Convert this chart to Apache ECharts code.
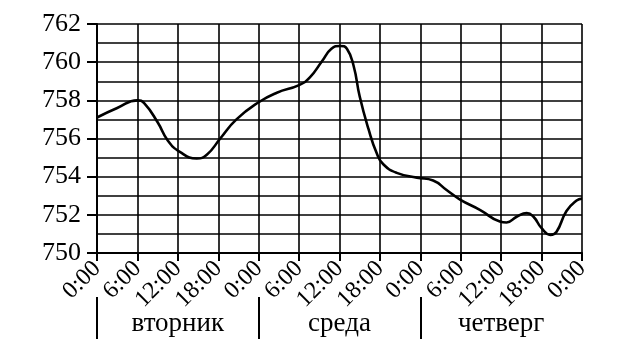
<!DOCTYPE html>
<html><head><meta charset="utf-8">
<script src="https://cdn.jsdelivr.net/npm/echarts@6/dist/echarts.min.js"></script>
<style>html,body{margin:0;padding:0;background:#fff}#c{width:641px;height:356px}</style>
</head><body><div id="c"></div>
<script>
// hours from Tuesday 0:00
const hours = [0,3,6,7,9,10.5,12.3,14.8,16.3,18.3,20.7,24,26.7,30,31.6,33.4,34.8,36.1,37.1,38.1,39,40.3,41.5,42.5,44.5,47.5,49.9,51.9,53.9,56.9,59.8,60.8,62.3,63.8,64.8,66,67.3,68.2,69.7,71.2,72];
const pressure = [757.1,757.6,758.0,757.85,756.85,755.9,755.3,754.95,755.15,756.0,757.0,757.9,758.4,758.8,759.2,760.05,760.7,760.85,760.7,759.8,758.2,756.5,755.25,754.65,754.2,753.95,753.8,753.3,752.8,752.25,751.65,751.6,751.9,752.1,751.9,751.3,750.95,751.1,752.2,752.75,752.85];
const dayCats = ['', 'вторник', '', 'среда', '', 'четверг', ''];
const yMin = 750, yMax = 762;

const font = 'Liberation Serif';
const chart = echarts.init(document.getElementById('c'));
const lineStyle = {color:'#000', width:1.6};
chart.setOption({
  animation:false,
  grid:{left:97, right:59, top:24, bottom:103},
  xAxis:[{
    type:'value', min:0, max:72, interval:6,
    axisLine:{show:true, lineStyle:{color:'#000', width:2}},
    axisTick:{show:true, length:8, lineStyle:{color:'#000', width:2}},
    splitLine:{show:true, lineStyle:lineStyle},
    axisLabel:{rotate:45, margin:12, color:'#000', fontFamily:font, fontSize:24,
      formatter:v => (v % 24) + ':00'}
  },{
    type:'category', data:dayCats, boundaryGap:false, position:'bottom', offset:44,
    axisLine:{show:false},
    axisTick:{show:true, length:42, interval:(i)=> i%2===0 && i<6, lineStyle:{color:'#000', width:2}},
    splitLine:{show:false},
    axisLabel:{interval:0, margin:13, color:'#000', fontFamily:font, fontSize:27}
  }],
  yAxis:{
    type:'value', min:yMin, max:yMax, interval:2,
    axisLine:{show:true, lineStyle:{color:'#000', width:2}},
    axisTick:{show:true, length:10, lineStyle:{color:'#000', width:2}},
    minorTick:{show:false, splitNumber:2},
    splitLine:{show:true, lineStyle:lineStyle},
    minorSplitLine:{show:true, lineStyle:lineStyle},
    axisLabel:{margin:16, color:'#000', fontFamily:font, fontSize:26}
  },
  series:[{
    type:'line', xAxisIndex:0, smooth:0.5, showSymbol:false,
    data: hours.map((h,i)=>[h, pressure[i]]),
    lineStyle:{color:'#000', width:2.6}
  }]
});
</script></body></html>
